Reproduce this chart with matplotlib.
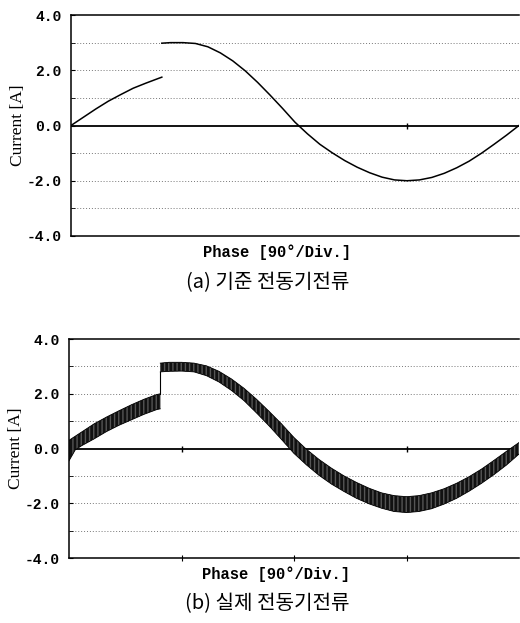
import matplotlib
matplotlib.use('Agg')
import numpy as np
import matplotlib.pyplot as plt

# (a) reference motor current
a_phase1 = [0, 10, 20, 30, 40, 50, 60, 70, 73]
a_cur1 = [0.0, 0.30, 0.60, 0.88, 1.12, 1.35, 1.53, 1.70, 1.75]
a_phase2 = [73, 80, 90, 100, 110, 120, 130, 140, 150, 160, 170, 180, 190, 200, 210,
            220, 230, 240, 250, 260, 270, 280, 290, 300, 310, 320, 330, 340, 350, 360]
a_cur2 = [2.98, 3.0, 3.0, 2.97, 2.85, 2.63, 2.34, 1.98, 1.56, 1.10, 0.62, 0.12, -0.30,
          -0.68, -0.99, -1.27, -1.51, -1.71, -1.87, -1.97, -2.0, -1.97, -1.88, -1.73,
          -1.53, -1.29, -1.0, -0.68, -0.35, 0.0]

# (b) measured motor current: ripple band (upper / lower envelope)
b_phase1 = [0, 5, 10, 20, 30, 40, 50, 60, 70, 73]
b_up1 = [0.30, 0.45, 0.60, 0.90, 1.15, 1.38, 1.60, 1.80, 1.97, 2.0]
b_lo1 = [-0.45, -0.05, 0.10, 0.35, 0.62, 0.85, 1.05, 1.25, 1.42, 1.45]
b_phase2 = a_phase2
b_up2 = [3.12, 3.15, 3.15, 3.12, 3.02, 2.82, 2.54, 2.2, 1.8, 1.36, 0.9, 0.4, -0.03,
         -0.4, -0.72, -1.0, -1.24, -1.45, -1.62, -1.72, -1.76, -1.72, -1.62, -1.47,
         -1.27, -1.03, -0.75, -0.43, -0.1, 0.22]
b_lo2 = [2.8, 2.82, 2.83, 2.8, 2.66, 2.43, 2.12, 1.75, 1.3, 0.83, 0.33, -0.18, -0.6,
         -0.98, -1.3, -1.57, -1.82, -2.02, -2.18, -2.3, -2.34, -2.3, -2.2, -2.03,
         -1.82, -1.56, -1.27, -0.95, -0.6, -0.2]

yticks = [-4, -2, 0, 2, 4]
ytick_labels = ['-4.0', '-2.0', '0.0', '2.0', '4.0']
grid_levels = [-3, -2, -1, 1, 2, 3]
minor_levels = [-3, -1, 1, 3]
div_ticks = [90, 180, 270]
xlabel = 'Phase [90°/Div.]'
ylabel = 'Current [A]'
captions = ['(a) 기준 전동기전류', '(b) 실제 전동기전류']

fig = plt.figure(figsize=(5.2, 6.23), dpi=100)
ax1 = fig.add_axes([0.1365, 0.6212, 0.8615, 0.3547])
ax2 = fig.add_axes([0.1327, 0.1043, 0.8655, 0.3515])


def style(ax):
    ax.set_xlim(0, 360)
    ax.set_ylim(-4, 4)
    for y in grid_levels:
        ax.axhline(y, color='#777777', lw=0.7, ls=(0, (1, 2)), zorder=0)
    ax.axhline(0, color='black', lw=1.3, zorder=1)
    ax.spines['right'].set_visible(False)
    for s in ['top', 'bottom', 'left']:
        ax.spines[s].set_linewidth(1.1)
    ax.set_yticks(yticks)
    ax.set_yticklabels(ytick_labels, family='Liberation Mono', fontsize=10.5,
                       fontweight='bold')
    ax.set_yticks(minor_levels, minor=True)
    ax.tick_params(axis='y', which='both', direction='in', length=3, pad=7)
    ax.set_xticks(div_ticks)
    ax.set_xticklabels([])
    ax.set_ylabel(ylabel, family='Liberation Serif', fontsize=12.5, labelpad=0)


style(ax1)
style(ax2)

# markers of the divisions on the zero line
ax1.plot([270], [0], marker='|', color='black', ms=5)
ax1.tick_params(axis='x', length=0)
ax2.plot(div_ticks, [0] * len(div_ticks), ls='none', marker='|', color='black', ms=5)
ax2.tick_params(axis='x', direction='inout', length=5)

ax1.plot(a_phase1, a_cur1, color='black', lw=1.1)
ax1.plot(a_phase2, a_cur2, color='black', lw=1.1)

for ph, up, lo in [(b_phase1, b_up1, b_lo1), (b_phase2, b_up2, b_lo2)]:
    ax2.fill_between(ph, lo, up, facecolor='#111111', edgecolor='#555555',
                     hatch='||||', lw=0, zorder=2)
    ax2.plot(ph, up, color='black', lw=0.6, zorder=3)
    ax2.plot(ph, lo, color='black', lw=0.6, zorder=3)
ax2.plot([b_phase1[-1], b_phase2[0]], [b_up1[-1], b_lo2[0]], color='black', lw=0.8)

for ax, cap in [(ax1, captions[0]), (ax2, captions[1])]:
    ax.text(0.46, -0.075, xlabel, transform=ax.transAxes, ha='center', va='center',
            family='Liberation Mono', fontsize=11.2, fontweight='bold')
    ax.text(0.44, -0.21, cap, transform=ax.transAxes, ha='center', va='center',
            family=['Noto Sans CJK KR', 'DejaVu Sans'], fontsize=14.5)

plt.savefig('out.png', dpi=100)
